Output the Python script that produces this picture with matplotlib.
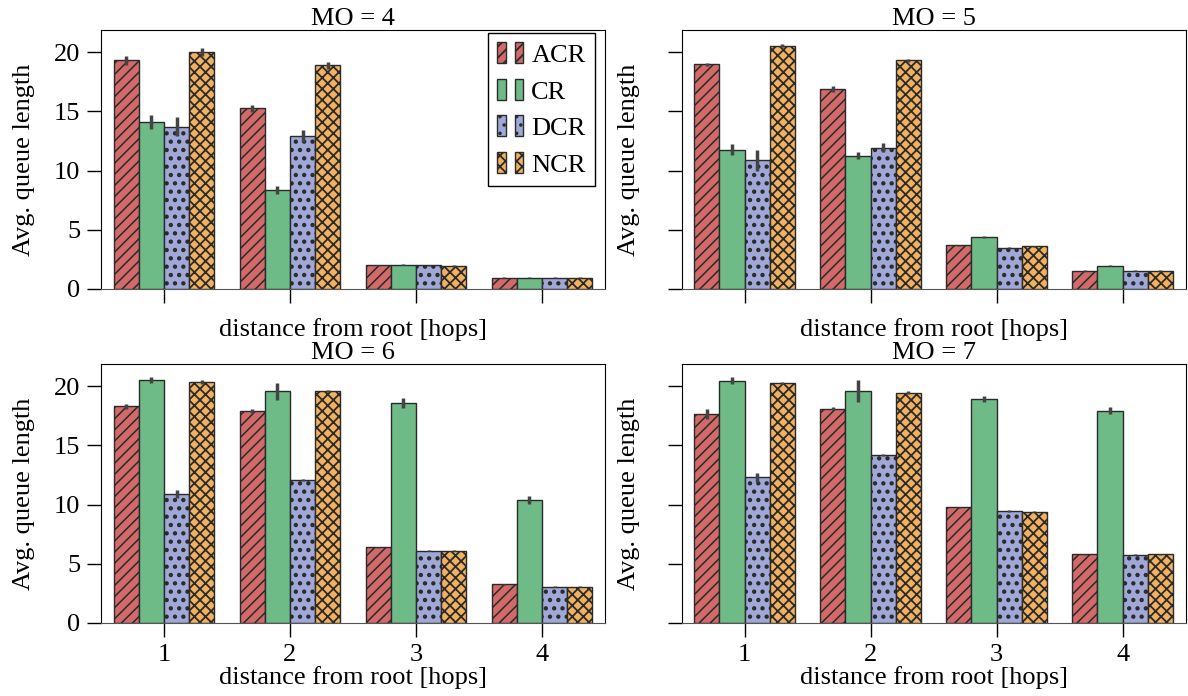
import matplotlib.pyplot as plt
import numpy as np
from matplotlib.patches import Patch
from matplotlib.legend_handler import HandlerTuple

plt.rcParams['font.family'] = ['Liberation Serif', 'DejaVu Serif']
plt.rcParams['font.size'] = 19
plt.rcParams['hatch.linewidth'] = 1.3
plt.rcParams['hatch.color'] = 'black'

hops = ["1", "2", "3", "4"]
schemes = ["ACR", "CR", "DCR", "NCR"]
mo_titles = ["MO = 4", "MO = 5", "MO = 6", "MO = 7"]

# mean queue length per scheme, per hop
mo4 = [[19.3, 15.25, 2.0, 0.95],
       [14.1, 8.35, 2.05, 0.95],
       [13.7, 12.9, 2.0, 0.95],
       [20.0, 18.9, 1.98, 0.95]]
mo5 = [[18.95, 16.9, 3.7, 1.55],
       [11.75, 11.25, 4.4, 1.95],
       [10.85, 11.9, 3.5, 1.55],
       [20.55, 19.3, 3.6, 1.55]]
mo6 = [[18.3, 17.9, 6.4, 3.25],
       [20.5, 19.55, 18.55, 10.4],
       [10.9, 12.05, 6.1, 3.05],
       [20.35, 19.55, 6.1, 3.05]]
mo7 = [[17.65, 18.1, 9.75, 5.8],
       [20.45, 19.6, 18.9, 17.9],
       [12.3, 14.15, 9.45, 5.75],
       [20.25, 19.45, 9.4, 5.8]]

# half-length of error bars
err4 = [[0.4, 0.3, 0.05, 0.03],
        [0.6, 0.35, 0.05, 0.03],
        [0.8, 0.5, 0.05, 0.03],
        [0.3, 0.3, 0.05, 0.03]]
err5 = [[0.15, 0.25, 0.05, 0.05],
        [0.45, 0.28, 0.08, 0.05],
        [0.9, 0.38, 0.05, 0.05],
        [0.1, 0.12, 0.05, 0.05]]
err6 = [[0.2, 0.15, 0.05, 0.05],
        [0.28, 0.7, 0.4, 0.35],
        [0.35, 0.08, 0.05, 0.05],
        [0.15, 0.08, 0.05, 0.05]]
err7 = [[0.4, 0.12, 0.05, 0.05],
        [0.3, 0.95, 0.28, 0.3],
        [0.38, 0.08, 0.05, 0.05],
        [0.08, 0.1, 0.05, 0.05]]

colors = ['#d26a6a', '#6fbb88', '#a0a8d8', '#f2b15f']
hatches = ['///', '', '..', 'xxx']
hatch_lw = [1.1, 1.0, 1.9, 1.3]

fig = plt.figure(figsize=(11.88, 6.96), dpi=100)
lefts = [0.085, 0.5738]
bottoms = [0.5848, 0.1049]
w, h = 0.4242, 0.3721

data = [(mo4, err4), (mo5, err5), (mo6, err6), (mo7, err7)]
x = np.arange(len(hops))
bw = 0.2


def set_hlw(patch, lw):
    if hasattr(patch, 'set_hatch_linewidth'):
        patch.set_hatch_linewidth(lw)


axes = []
for k, (vals, errs) in enumerate(data):
    r, c = divmod(k, 2)
    ax = fig.add_axes([lefts[c], bottoms[r], w, h])
    axes.append(ax)
    for i in range(len(schemes)):
        pos = x - 0.4 + bw * (i + 0.5)
        bars = ax.bar(pos, vals[i], bw, color=colors[i], hatch=hatches[i],
                      edgecolor='#2a2a2a', linewidth=1.0, zorder=2)
        for b in bars:
            set_hlw(b, hatch_lw[i])
        ax.errorbar(pos, vals[i], yerr=errs[i], fmt='none', ecolor='#444444',
                    elinewidth=2.5, capsize=0, zorder=3)
    ax.set_xlim(-0.5, 3.5)
    ax.set_ylim(0, 21.86)
    ax.set_yticks([0, 5, 10, 15, 20])
    ax.set_xticks(x)
    ax.tick_params(direction='out', length=10, width=1, pad=5)
    ax.spines['bottom'].set_color('#555555')
    ax.set_title(mo_titles[k], pad=2, fontsize=19)
    ax.set_ylabel("Avg. queue length")
    if r == 0:
        ax.set_xticklabels([])
        ax.set_xlabel("distance from root [hops]", labelpad=6)
    else:
        ax.set_xticklabels(hops)
        ax.set_xlabel("distance from root [hops]", labelpad=0)
    if c == 1:
        ax.set_yticklabels([])
        ax.yaxis.set_label_coords(-0.083, 0.5)
    else:
        ax.yaxis.set_label_coords(-0.131, 0.5)

handles = []
for i in range(len(schemes)):
    p1 = Patch(facecolor=colors[i], hatch=hatches[i], edgecolor='#2a2a2a', linewidth=1.0)
    p2 = Patch(facecolor=colors[i], hatch=hatches[i], edgecolor='#2a2a2a', linewidth=1.0)
    set_hlw(p1, hatch_lw[i])
    set_hlw(p2, hatch_lw[i])
    handles.append((p1, p2))
leg = axes[0].legend(handles, schemes, loc='upper right',
                     bbox_to_anchor=(0.98, 0.988), borderaxespad=0,
                     fancybox=False, edgecolor='black', framealpha=1,
                     handlelength=1.0, handleheight=0.85, handletextpad=0.3,
                     labelspacing=0.45, borderpad=0.35,
                     handler_map={tuple: HandlerTuple(ndivide=None, pad=0.35)})
leg.get_frame().set_linewidth(1.0)

fig.savefig("out.png", dpi=100)
